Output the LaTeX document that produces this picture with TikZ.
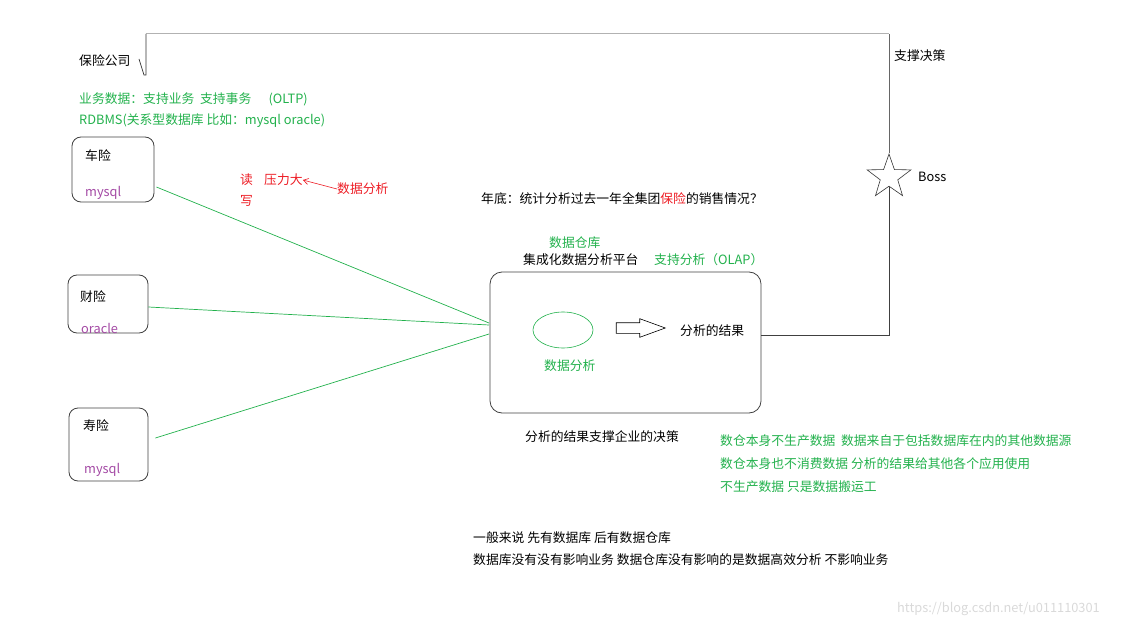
\documentclass[tikz,border=0pt]{standalone}
\usepackage{fontspec}
\setmainfont{Noto Sans CJK SC}
\usepackage{tikz}
\usetikzlibrary{arrows.meta,positioning,calc,shapes.geometric,shapes.arrows}

\definecolor{paintgreen}{RGB}{34,177,76}
\definecolor{paintred}{RGB}{237,28,36}
\definecolor{paintpurple}{RGB}{163,73,164}

\tikzset{
  txt/.style={anchor=west, inner sep=0pt, font=\fontsize{12.8}{14}\selectfont},
  note/.style={txt, text=paintgreen},
  hint/.style={txt, text=paintred},
  dbname/.style={txt, text=paintpurple},
  dbbox/.style={draw=black!75, line width=0.8pt, rounded corners=9pt, inner sep=0pt},
  feed/.style={draw=paintgreen, line width=0.7pt},
}

\begin{document}
\begin{tikzpicture}[x=1pt,y=-1pt]
    \useasboundingbox (0,0) rectangle (1139,628);
    % Company
    \node[txt] (company) at (79,61) {保险公司};
    \node[note] (oltp) at (79,99) {业务数据：支持业务\ \ 支持事务\ \ \ \ \ \ (OLTP)};
    \node[note] (rdbms) at (79,121) {RDBMS(关系型数据库 比如：mysql oracle)};
    % Source databases
    \node[dbbox, minimum width=82pt, minimum height=65pt] (chexian) at (113,169.5) {};
    \node[txt] at (85,156) {车险};
    \node[dbname] at (85,193) {mysql};
    \node[dbbox, minimum width=80pt, minimum height=58pt] (caixian) at (108,304) {};
    \node[txt] at (80,297) {财险};
    \node[dbname] at (81,328) {oracle};
    \node[dbbox, minimum width=79pt, minimum height=73pt] (shouxian) at (108.5,444.5) {};
    \node[txt] at (83,426) {寿险};
    \node[dbname] at (84,470) {mysql};
    % Read / write
    \node[hint] (du) at (240,180) {读};
    \node[hint] (xie) at (240,201) {写};
    \node[hint] (yali) at (264,180) {压力大};
    \node[hint] (shujufenxi) at (337,189) {数据分析};
    \draw[paintred, line width=0.6pt, -{Straight Barb[length=5pt,width=6pt]}] (shujufenxi.west) -- (yali.east);
    % Question
    \node[txt] (question) at (481,199) {年底：统计分析过去一年全集团\textcolor{paintred}{保险}的销售情况？};
    % Platform
    \node[note] (dw) at (549,243) {数据仓库};
    \node[txt] (platform) at (523,260) {集成化数据分析平台};
    \node[note] (olap) at (654,260) {支持分析（OLAP）};
    \node[dbbox, rounded corners=12pt, minimum width=271pt, minimum height=141pt] (dwbox) at (625.5,342.5) {};
    \node[draw=paintgreen, line width=0.6pt, ellipse, minimum width=60pt, minimum height=36pt] (analysis) at (563,330) {};
    \node[note] (analysislbl) at (544,366) {数据分析};
    \node[single arrow, draw=black, line width=0.6pt, inner sep=5pt, minimum height=49pt,
          minimum width=18pt, single arrow head extend=4pt, single arrow tip angle=40] (flow) at (633.5,328) {};
    \node[txt] (result) at (680,331) {分析的结果};
    \node[txt] (decision) at (525,437) {分析的结果支撑企业的决策};
    % Feeds into the warehouse
    \coordinate (in1) at (489,323);
    \coordinate (in2) at (489,325);
    \coordinate (in3) at (489,334);
    \draw[feed] ($(chexian.east)+(2,17.5)$) -- (in1);
    \draw[feed] ($(caixian.east)+(0,3)$) -- (in2);
    \draw[feed] ($(shouxian.east)+(7,-6.5)$) -- (in3);
    % Boss
    \node[draw=black!80, line width=0.6pt, star, star points=5, star point ratio=2.5, minimum size=46pt, inner sep=0pt] (boss) at (889,177) {};
    \node[txt] (bosslbl) at (918,177) {Boss};
    \node[txt] (support) at (894,56) {支撑决策};
    \coordinate (corner) at (889,335);
    \draw[black!75, line width=0.8pt] (dwbox.east |- corner) -- (corner) -- (boss.south);
    \draw[black!30, line width=1pt] (146,34) -- (889,34);
    \draw[black!60, line width=0.8pt] (889,34) -- (boss.north);
    \draw[black!80, line width=0.7pt] (139,59) -- (144,75) -- (146,75) -- (146,34);
    % Notes on the warehouse
    \node[note] at (720,441) {数仓本身不生产数据\ \ 数据来自于包括数据库在内的其他数据源};
    \node[note] at (720,464) {数仓本身也不消费数据 分析的结果给其他各个应用使用};
    \node[note] at (720,487) {不生产数据 只是数据搬运工};
    % Summary
    \node[txt] at (473,538) {一般来说 先有数据库 后有数据仓库};
    \node[txt] at (473,560) {数据库没有没有影响业务 数据仓库没有影响的是数据高效分析 不影响业务};
    \node[txt, text=black!15] at (897,609) {https://blog.csdn.net/u011110301};
\end{tikzpicture}
\end{document}
